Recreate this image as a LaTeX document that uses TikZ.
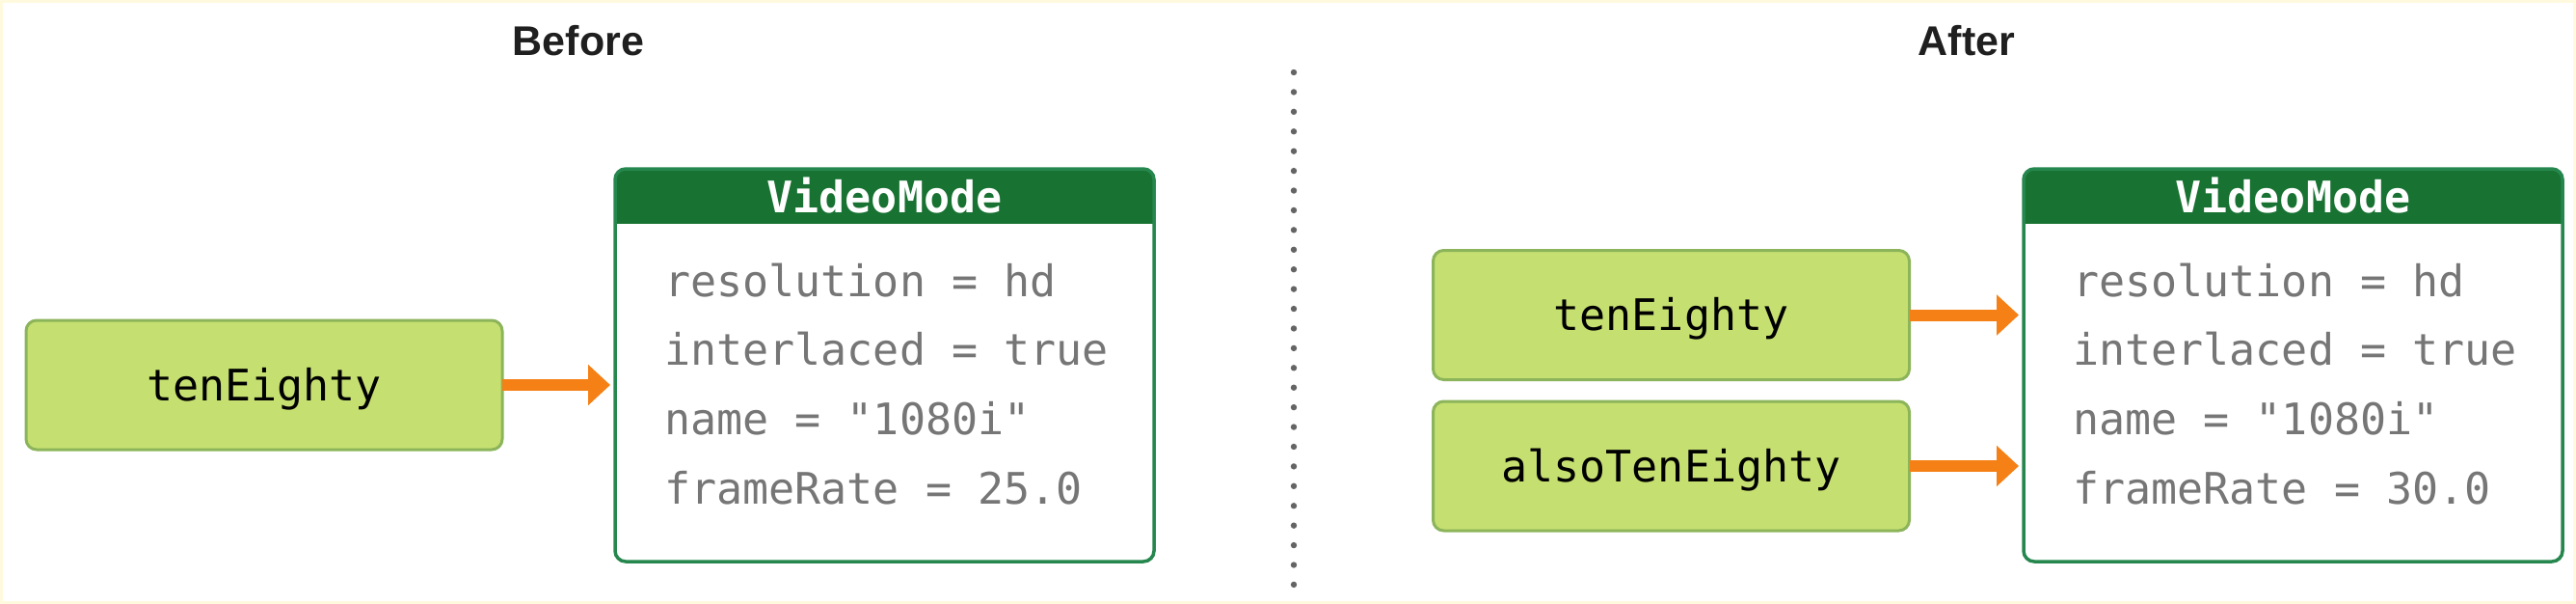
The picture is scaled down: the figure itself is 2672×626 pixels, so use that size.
\documentclass[tikz,border=0pt]{standalone}
\usepackage{fontspec}
\setmainfont{Liberation Sans}
\newfontfamily\codefont{DejaVu Sans Mono}
\usetikzlibrary{arrows.meta}
\definecolor{hdr}{RGB}{24,114,50}
\definecolor{vmline}{RGB}{38,135,78}
\definecolor{varfill}{RGB}{197,223,112}
\definecolor{varline}{RGB}{140,180,90}
\definecolor{orng}{RGB}{245,128,22}
\definecolor{fieldgray}{RGB}{118,118,118}
\definecolor{dotgray}{RGB}{100,100,100}
\definecolor{frameyellow}{RGB}{255,250,222}
\newcommand\vmpanel[2]{%
  \begin{scope}
    \clip (#1.north west) rectangle (#1.east |- #2);
    \fill[hdr, rounded corners=11pt] (#1.north west) rectangle (#1.south east);
  \end{scope}
  \draw[vmborder] (#1.north west) rectangle (#1.south east);
}
\begin{document}
\begin{tikzpicture}[x=1pt,y=-1pt,
  varbox/.style={draw=varline, fill=varfill, line width=3pt, rounded corners=11pt,
    minimum width=494pt, minimum height=134pt, inner sep=0pt, outer sep=0pt,
    font=\codefont\fontsize{45}{54}\selectfont, text=black, text height=32pt, text depth=0pt},
  vmshape/.style={minimum width=559pt, minimum height=407pt, inner sep=0pt, outer sep=0pt},
  vmbody/.style={fill=white, rounded corners=11pt},
  vmborder/.style={draw=vmline, line width=3.5pt, rounded corners=11pt},
  field/.style={font=\codefont\fontsize{45}{54}\selectfont, text=fieldgray, anchor=base west, inner sep=0pt},
  hdrtext/.style={font=\codefont\bfseries\fontsize{45}{54}\selectfont, text=white, anchor=base, inner sep=0pt},
  title/.style={font=\bfseries\fontsize{43}{50}\selectfont, text=black!88, anchor=base, inner sep=0pt},
  ref/.style={draw=orng, line width=12pt, -{Triangle[length=23pt,width=41pt]}, shorten >=5pt}
]
\useasboundingbox (0,0) rectangle (2672,626);
\fill[white] (0,0) rectangle (2672,626);
\draw[frameyellow, line width=3pt] (1.5,1.5) rectangle (2670.5,624.5);

% titles
\node[title] (tbefore) at (600,58) {Before};
\node[title] (tafter) at (2040,58) {After};

% divider
\foreach \i in {0,...,26} \fill[dotgray] (1342,75+\i*20.42) circle (3.2pt);

% ---------- Before ----------
\node[vmshape] (vm1) at (917.5,378.5) {};
\fill[vmbody] (vm1.north west) rectangle (vm1.south east);
\coordinate (h1) at (0,231);
\vmpanel{vm1}{h1}
\node[hdrtext] (vm1h) at (917.5,220) {VideoMode};
\node[field] (f11) at (689,307) {resolution = hd};
\node[field] (f12) at (689,378) {interlaced = true};
\node[field] (f13) at (689,450) {name = "1080i"};
\node[field] (f14) at (689,522) {frameRate = 25.0};

\node[varbox] (te1) at (274,399) {tenEighty};
\draw[ref] (te1.east) -- (te1.east -| vm1.west);

% ---------- After ----------
\node[vmshape] (vm2) at (2378.5,378.5) {};
\fill[vmbody] (vm2.north west) rectangle (vm2.south east);
\vmpanel{vm2}{h1}
\node[hdrtext] (vm2h) at (2378.5,220) {VideoMode};
\node[field] (f21) at (2150,307) {resolution = hd};
\node[field] (f22) at (2150,378) {interlaced = true};
\node[field] (f23) at (2150,450) {name = "1080i"};
\node[field] (f24) at (2150,522) {frameRate = 30.0};

\node[varbox] (te2) at (1733.5,326.5) {tenEighty};
\node[varbox] (ate2) at (1733.5,483) {alsoTenEighty};
\draw[ref] (te2.east) -- (te2.east -| vm2.west);
\draw[ref] (ate2.east) -- (ate2.east -| vm2.west);
\end{tikzpicture}
\end{document}
